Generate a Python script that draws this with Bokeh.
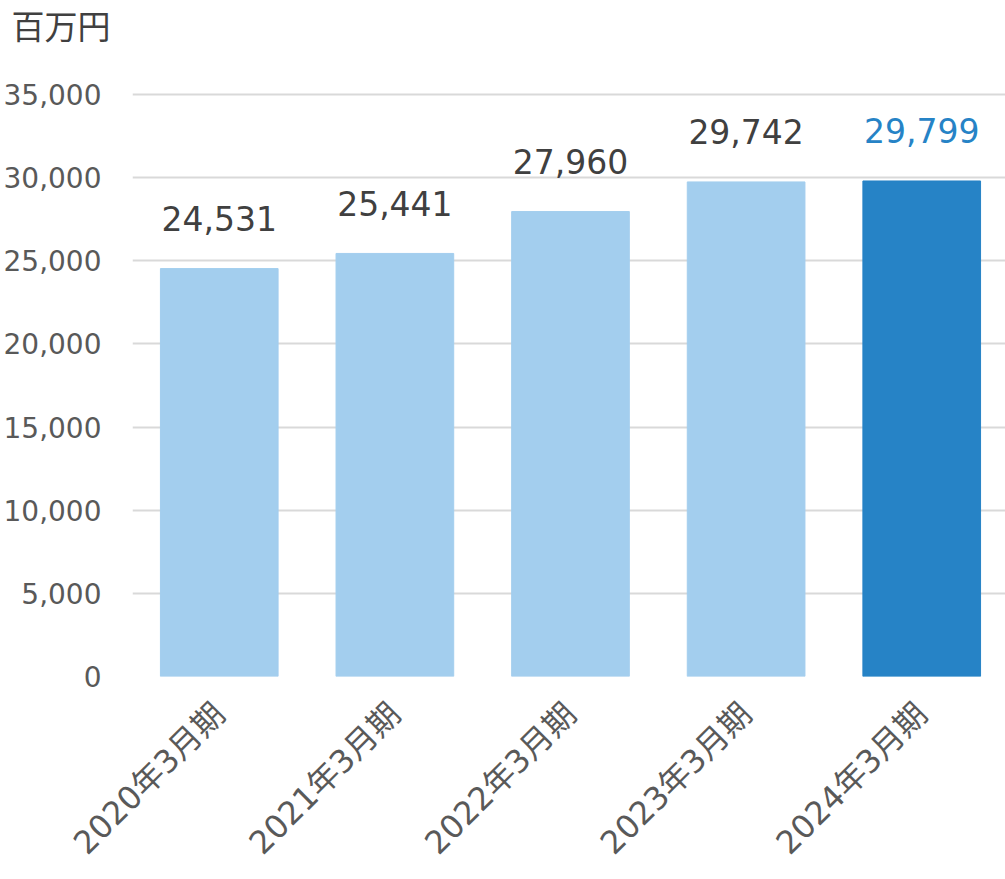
from bokeh.plotting import figure
from bokeh.models import ColumnDataSource, Range1d, FixedTicker, NumeralTickFormatter
from bokeh.core.properties import value
from bokeh.embed import file_html
from bokeh.resources import INLINE
import math

categories = ["2020年3月期", "2021年3月期", "2022年3月期", "2023年3月期", "2024年3月期"]
sales = [24531, 25441, 27960, 29742, 29799]
y_ticks = [0, 5000, 10000, 15000, 20000, 25000, 30000, 35000]
unit_label = "百万円"

bar_colors = ["#A3CEEE", "#A3CEEE", "#A3CEEE", "#A3CEEE", "#2683C6"]
label_colors = ["#404040", "#404040", "#404040", "#404040", "#2683C6"]

xs = list(range(len(categories)))
src = ColumnDataSource(dict(
    x=xs,
    y=sales,
    color=bar_colors,
    lcolor=label_colors,
    txt=[f"{v:,}" for v in sales],
))

p = figure(width=1005, height=879, output_backend="svg", toolbar_location=None,
           x_range=Range1d(-0.494, 4.477), y_range=Range1d(0, 35300),
           min_border_left=130, min_border_right=0, min_border_top=89,
           min_border_bottom=203)
p.outline_line_color = None
p.background_fill_color = "white"
p.border_fill_color = "white"

p.vbar(x="x", top="y", width=0.67, color="color", source=src)
p.text(x="x", y="y", text="txt", text_color="lcolor", source=src,
       text_align="center", text_baseline="alphabetic", y_offset=-50,
       text_font=value("DejaVu Sans"), text_font_size="33px")

# y axis
p.yaxis.ticker = FixedTicker(ticks=y_ticks)
p.yaxis.formatter = NumeralTickFormatter(format="0,0")
p.yaxis.axis_line_color = None
p.yaxis.major_tick_line_color = None
p.yaxis.minor_tick_line_color = None
p.yaxis.major_tick_out = 0
p.yaxis.major_tick_in = 0
p.yaxis.major_label_standoff = 31
p.yaxis.major_label_text_font = "DejaVu Sans"
p.yaxis.major_label_text_font_size = "28px"
p.yaxis.major_label_text_color = "#595959"

# x axis
p.xaxis.ticker = FixedTicker(ticks=xs)
p.xaxis.major_label_overrides = {i: c for i, c in enumerate(categories)}
p.xaxis.axis_line_color = None
p.xaxis.major_tick_line_color = None
p.xaxis.minor_tick_line_color = None
p.xaxis.major_tick_out = 0
p.xaxis.major_tick_in = 0
p.xaxis.major_label_standoff = 32
p.xaxis.major_label_orientation = math.pi / 4
p.xaxis.major_label_text_font = "DejaVu Sans, Noto Sans CJK JP"
p.xaxis.major_label_text_font_size = "32px"
p.xaxis.major_label_text_color = "#595959"

p.xgrid.grid_line_color = None
p.ygrid.ticker = FixedTicker(ticks=y_ticks)
p.ygrid.grid_line_color = "#D9D9D9"
p.ygrid.grid_line_width = 2

p.title.text = unit_label + "\n"
p.title.align = "left"
p.title.offset = -121
p.title.standoff = 8
p.title.text_font = "DejaVu Sans, Noto Sans CJK JP"
p.title.text_font_size = "33px"
p.title.text_font_style = "normal"
p.title.text_color = "#404040"

open("out.html", "w").write(file_html(p, INLINE))
